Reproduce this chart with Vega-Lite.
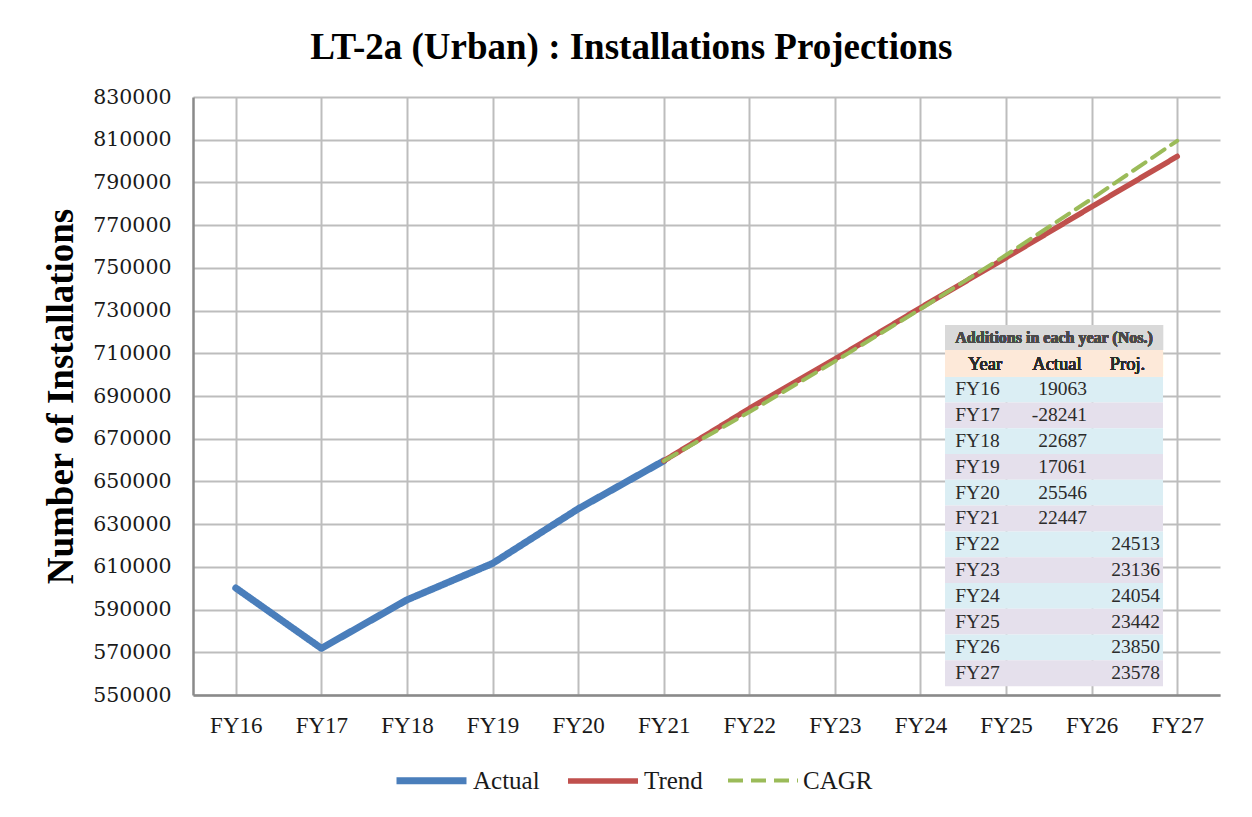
{
  "$schema": "https://vega.github.io/schema/vega-lite/v6.json",
  "width": 1027,
  "height": 598,
  "autosize": {"type": "none"},
  "padding": {"left": 193, "top": 97, "right": 32, "bottom": 122},
  "background": "white",
  "title": {
    "text": "LT-2a (Urban) : Installations Projections",
    "font": "Liberation Serif",
    "fontSize": 37,
    "fontWeight": "bold",
    "color": "#000000",
    "anchor": "middle",
    "frame": "bounds",
    "offset": 20
  },
  "config": {"view": {"stroke": null}},
  "datasets": {
    "series": [
      {"Year": "FY16", "Series": "Actual", "Value": 600100},
      {"Year": "FY17", "Series": "Actual", "Value": 571859},
      {"Year": "FY18", "Series": "Actual", "Value": 594546},
      {"Year": "FY19", "Series": "Actual", "Value": 611607},
      {"Year": "FY20", "Series": "Actual", "Value": 637153},
      {"Year": "FY21", "Series": "Actual", "Value": 659600},
      {"Year": "FY21", "Series": "Trend", "Value": 659600},
      {"Year": "FY22", "Series": "Trend", "Value": 684113},
      {"Year": "FY23", "Series": "Trend", "Value": 707249},
      {"Year": "FY24", "Series": "Trend", "Value": 731303},
      {"Year": "FY25", "Series": "Trend", "Value": 754745},
      {"Year": "FY26", "Series": "Trend", "Value": 778595},
      {"Year": "FY27", "Series": "Trend", "Value": 802173},
      {"Year": "FY21", "Series": "CAGR", "Value": 659600},
      {"Year": "FY22", "Series": "CAGR", "Value": 682500},
      {"Year": "FY23", "Series": "CAGR", "Value": 706200},
      {"Year": "FY24", "Series": "CAGR", "Value": 730700},
      {"Year": "FY25", "Series": "CAGR", "Value": 756000},
      {"Year": "FY26", "Series": "CAGR", "Value": 782300},
      {"Year": "FY27", "Series": "CAGR", "Value": 809500}
    ],
    "table": [
      {"Year": "FY16", "Actual": 19063, "Proj": null},
      {"Year": "FY17", "Actual": -28241, "Proj": null},
      {"Year": "FY18", "Actual": 22687, "Proj": null},
      {"Year": "FY19", "Actual": 17061, "Proj": null},
      {"Year": "FY20", "Actual": 25546, "Proj": null},
      {"Year": "FY21", "Actual": 22447, "Proj": null},
      {"Year": "FY22", "Actual": null, "Proj": 24513},
      {"Year": "FY23", "Actual": null, "Proj": 23136},
      {"Year": "FY24", "Actual": null, "Proj": 24054},
      {"Year": "FY25", "Actual": null, "Proj": 23442},
      {"Year": "FY26", "Actual": null, "Proj": 23850},
      {"Year": "FY27", "Actual": null, "Proj": 23578}
    ]
  },
  "layer": [
    {
      "data": {"name": "series"},
      "mark": {"type": "line", "strokeCap": "round", "strokeJoin": "round"},
      "encoding": {
        "x": {
          "field": "Year",
          "type": "ordinal",
          "scale": {"type": "point", "padding": 0.5},
          "axis": {
            "title": null,
            "labelFont": "Liberation Serif",
            "labelFontSize": 23,
            "labelColor": "#1a1a1a",
            "labelAngle": 0,
            "ticks": false,
            "labelPadding": 19,
            "grid": true,
            "gridColor": "#bdbdbd",
            "gridWidth": 2,
            "domainColor": "#8a8a8a",
            "domainWidth": 2.5
          }
        },
        "y": {
          "field": "Value",
          "type": "quantitative",
          "scale": {"domain": [550000, 830000], "nice": false, "zero": false},
          "axis": {
            "values": [550000, 570000, 590000, 610000, 630000, 650000, 670000, 690000, 710000, 730000, 750000, 770000, 790000, 810000, 830000],
            "format": "d",
            "labelFont": "DejaVu Serif",
            "labelFontSize": 20.5,
            "labelColor": "#1a1a1a",
            "labelPadding": 22,
            "ticks": false,
            "grid": true,
            "gridColor": "#bdbdbd",
            "gridWidth": 2,
            "domainColor": "#8a8a8a",
            "domainWidth": 2.5,
            "title": "Number of Installations",
            "titleFont": "Liberation Serif",
            "titleFontSize": 37,
            "titleFontWeight": "bold",
            "titleColor": "#000000",
            "titlePadding": 12
          }
        },
        "color": {
          "field": "Series",
          "type": "nominal",
          "scale": {"domain": ["Actual", "Trend", "CAGR"], "range": ["#4a7ebb", "#c0504d", "#9bbb59"]},
          "legend": {
            "title": null,
            "orient": "none",
            "legendX": 200,
            "legendY": 645,
            "direction": "horizontal",
            "symbolType": "stroke",
            "symbolSize": 4900,
            "labelFont": "Liberation Serif",
            "labelFontSize": 25,
            "labelColor": "#1a1a1a",
            "labelOffset": 3,
            "columnPadding": 17
          }
        },
        "strokeWidth": {
          "field": "Series",
          "type": "nominal",
          "scale": {"domain": ["Actual", "Trend", "CAGR"], "range": [7, 4, 4.5]},
          "legend": {"title": null}
        },
        "strokeDash": {
          "field": "Series",
          "type": "nominal",
          "scale": {"domain": ["Actual", "Trend", "CAGR"], "range": [[1, 0], [1, 0], [15, 8]]},
          "legend": {"title": null}
        }
      }
    },
    {
      "data": {"name": "table"},
      "layer": [
        {
          "mark": {"type": "rect"},
          "encoding": {
            "y": {"field": "Year", "type": "nominal", "scale": {"domain": ["p1", "p2", "p3", "p4", "p5", "p6", "p7", "p8", "title", "header", "FY16", "FY17", "FY18", "FY19", "FY20", "FY21", "FY22", "FY23", "FY24", "FY25", "FY26", "FY27"], "paddingInner": 0, "paddingOuter": 0.59, "align": 0.71}, "axis": null},
            "x": {"datum": 0, "type": "quantitative", "scale": {"domain": [-10.349, 3.784], "nice": false, "zero": false}, "axis": null},
            "x2": {"datum": 3},
            "color": {"field": "Year", "type": "nominal", "scale": {"domain": ["FY16", "FY17", "FY18", "FY19", "FY20", "FY21", "FY22", "FY23", "FY24", "FY25", "FY26", "FY27"], "range": ["#dbeef4", "#e5e0ec"]}, "legend": null}
          }
        },
        {
          "mark": {"type": "rect", "color": "#d9d9d9"},
          "encoding": {
            "y": {"datum": "title", "type": "nominal"},
            "x": {"datum": 0, "type": "quantitative"},
            "x2": {"datum": 3}
          }
        },
        {
          "mark": {"type": "rect", "color": "#fde9d9"},
          "encoding": {
            "y": {"datum": "header", "type": "nominal"},
            "x": {"datum": 0, "type": "quantitative"},
            "x2": {"datum": 3}
          }
        },
        {
          "mark": {"type": "text", "font": "Liberation Serif", "fontSize": 16, "fontWeight": "bold", "color": "#4a4a4a", "align": "center", "baseline": "middle"},
          "encoding": {
            "y": {"datum": "title", "type": "nominal"},
            "x": {"datum": 1.5, "type": "quantitative"},
            "text": {"value": "Additions in each year (Nos.)"}
          }
        },
        {
          "mark": {"type": "text", "font": "Liberation Serif", "fontSize": 18.5, "fontWeight": "normal", "color": "#2b2b2b", "align": "center", "baseline": "middle"},
          "encoding": {
            "y": {"datum": "header", "type": "nominal"},
            "x": {"datum": 0.55, "type": "quantitative"},
            "text": {"value": "Year"}
          }
        },
        {
          "mark": {"type": "text", "font": "Liberation Serif", "fontSize": 18.5, "fontWeight": "normal", "color": "#2b2b2b", "align": "center", "baseline": "middle"},
          "encoding": {
            "y": {"datum": "header", "type": "nominal"},
            "x": {"datum": 1.54, "type": "quantitative"},
            "text": {"value": "Actual"}
          }
        },
        {
          "mark": {"type": "text", "font": "Liberation Serif", "fontSize": 18.5, "fontWeight": "normal", "color": "#2b2b2b", "align": "center", "baseline": "middle"},
          "encoding": {
            "y": {"datum": "header", "type": "nominal"},
            "x": {"datum": 2.51, "type": "quantitative"},
            "text": {"value": "Proj."}
          }
        },
        {
          "mark": {"type": "text", "font": "Liberation Serif", "fontSize": 19.5, "color": "#2b2b2b", "align": "left", "baseline": "middle"},
          "encoding": {
            "y": {"field": "Year", "type": "nominal"},
            "x": {"datum": 0.14, "type": "quantitative"},
            "text": {"field": "Year"}
          }
        },
        {
          "transform": [{"filter": "datum.Actual != null"}],
          "mark": {"type": "text", "font": "Liberation Serif", "fontSize": 19.5, "color": "#2b2b2b", "align": "right", "baseline": "middle"},
          "encoding": {
            "y": {"field": "Year", "type": "nominal"},
            "x": {"datum": 1.954, "type": "quantitative"},
            "text": {"field": "Actual", "type": "nominal"}
          }
        },
        {
          "transform": [{"filter": "datum.Proj != null"}],
          "mark": {"type": "text", "font": "Liberation Serif", "fontSize": 19.5, "color": "#2b2b2b", "align": "right", "baseline": "middle"},
          "encoding": {
            "y": {"field": "Year", "type": "nominal"},
            "x": {"datum": 2.96, "type": "quantitative"},
            "text": {"field": "Proj", "type": "nominal"}
          }
        }
      ]
    }
  ],
  "resolve": {"scale": {"x": "independent", "y": "independent", "color": "independent", "strokeWidth": "independent", "strokeDash": "independent"}}
}
